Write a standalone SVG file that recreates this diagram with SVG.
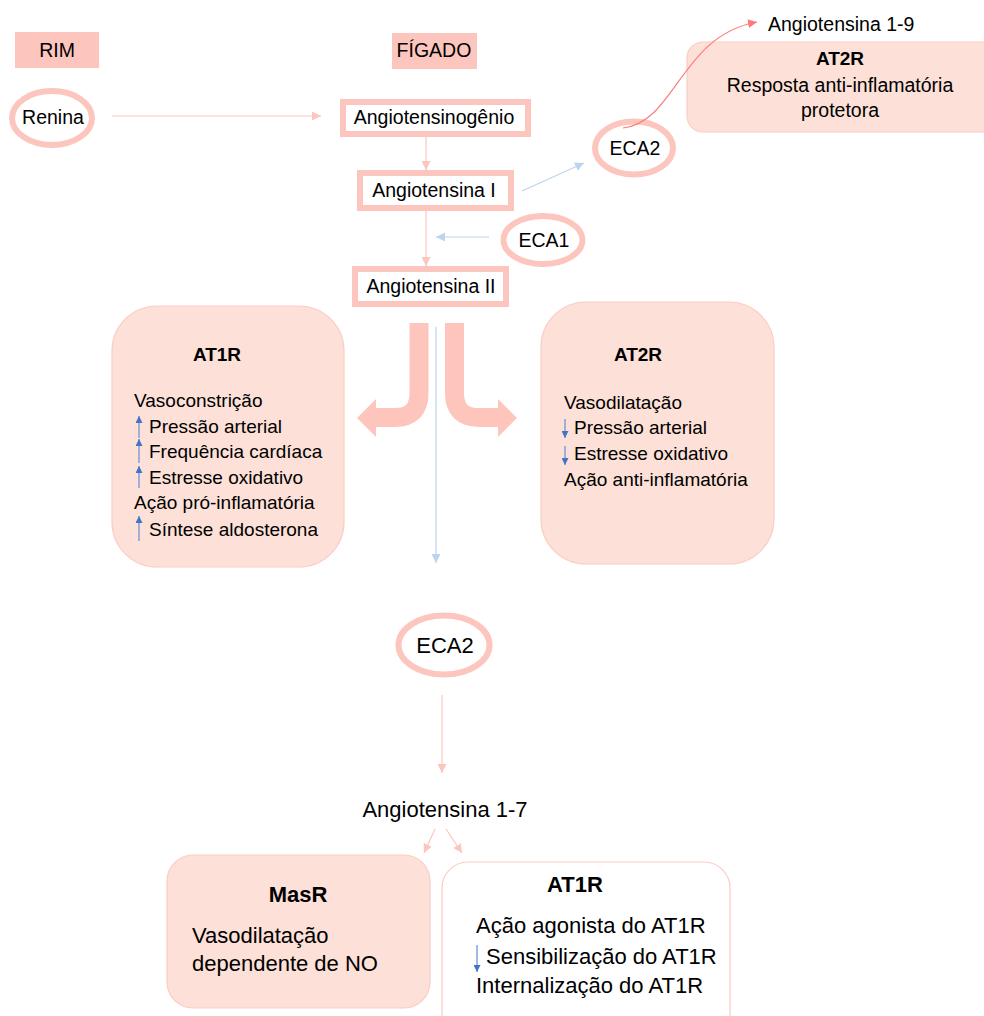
<svg xmlns="http://www.w3.org/2000/svg" width="984" height="1016" viewBox="0 0 984 1016">
<style>
  text { font-family: "Liberation Sans", Arial, sans-serif; fill: #000; }
  .t { font-size: 19.5px; }
  .b { font-size: 19px; }
  .big { font-size: 22px; }
  .bold { font-weight: bold; }
  .mid { text-anchor: middle; }
  .ring { fill: #fff; stroke: #fcc6be; stroke-width: 6; }
  .frame { fill: #fff; stroke: #fcc6be; stroke-width: 6; }
  .label { fill: #fcc6be; }
  .box { fill: #fde0d7; stroke: #fbcdc4; stroke-width: 1.2; }
  .wbox { fill: #fff; stroke: #fbcdc4; stroke-width: 1.2; }
  .pink { fill: none; stroke: #fcc6be; stroke-width: 1.2; marker-end: url(#ap); }
  .blue { fill: none; stroke: #bcd5ee; stroke-width: 1.2; marker-end: url(#ab); }
  .red { fill: none; stroke: #ff7b7b; stroke-width: 1.2; marker-end: url(#ar); }
  .band { fill: none; stroke: #fdc5bc; stroke-width: 19; }
  .head { fill: #fdc5bc; }
  .mark { fill: none; stroke: #6f95d6; stroke-width: 1.3; marker-end: url(#am); }
</style>
<defs>
  <marker id="ap" markerUnits="userSpaceOnUse" markerWidth="9" markerHeight="9" refX="9" refY="4.5" orient="auto">
    <path d="M0,0 L9,4.5 L0,9 z" fill="#fcc6be"/>
  </marker>
  <marker id="ab" markerUnits="userSpaceOnUse" markerWidth="9" markerHeight="9" refX="9" refY="4.5" orient="auto">
    <path d="M0,0 L9,4.5 L0,9 z" fill="#bcd5ee"/>
  </marker>
  <marker id="ar" markerUnits="userSpaceOnUse" markerWidth="9" markerHeight="9" refX="9" refY="4.5" orient="auto">
    <path d="M0,0 L9,4.5 L0,9 z" fill="#ff7b7b"/>
  </marker>
  <marker id="am" markerUnits="userSpaceOnUse" markerWidth="7" markerHeight="7" refX="7" refY="3.5" orient="auto">
    <path d="M0,0 L7,3.5 L0,7 z" fill="#4472c4"/>
  </marker>
</defs>

<g id="rim">
  <rect class="label" x="15" y="32" width="84" height="36"/>
  <text class="t mid" x="57" y="57">RIM</text>
</g>
<g id="figado">
  <rect class="label" x="392" y="33" width="85" height="36"/>
  <text class="t mid" x="434" y="57">FÍGADO</text>
</g>
<g id="renina">
  <ellipse class="ring" cx="52" cy="118" rx="40" ry="27"/>
  <text class="t mid" x="53" y="124">Renina</text>
</g>
<g id="angiotensinogenio">
  <rect class="frame" x="343" y="102" width="185" height="32"/>
  <text class="t mid" x="434" y="124">Angiotensinogênio</text>
</g>
<g id="angiotensina-i">
  <rect class="frame" x="360" y="173" width="151" height="35"/>
  <text class="t mid" x="434" y="197">Angiotensina I</text>
</g>
<g id="angiotensina-ii">
  <rect class="frame" x="355" y="269" width="151" height="35"/>
  <text class="t mid" x="431" y="293">Angiotensina II</text>
</g>
<g id="eca1">
  <ellipse class="ring" cx="543" cy="240" rx="39.5" ry="24"/>
  <text class="t mid" x="544" y="247">ECA1</text>
</g>
<g id="eca2-top">
  <ellipse class="ring" cx="634" cy="148" rx="39" ry="26.5"/>
  <text class="t mid" x="635" y="155">ECA2</text>
</g>
<g id="angiotensina-1-9">
  <text class="t" x="768" y="31">Angiotensina 1-9</text>
</g>
<g id="at2r-top">
  <rect class="box" x="687" y="42" width="320" height="90" rx="16"/>
  <text class="b bold mid" x="840" y="65">AT2R</text>
  <text class="t mid" x="840" y="92">Resposta anti-inflamatória</text>
  <text class="t mid" x="840" y="117">protetora</text>
</g>

<g id="at1r">
  <rect class="box" x="112" y="306" width="232" height="261" rx="45"/>
  <text class="b bold mid" x="217" y="361">AT1R</text>
  <text class="b" x="134" y="407">Vasoconstrição</text>
  <line class="mark" x1="139" y1="438" x2="139" y2="416"/>
  <text class="b" x="149" y="433">Pressão arterial</text>
  <line class="mark" x1="139" y1="463" x2="139" y2="439"/>
  <text class="b" x="149" y="458">Frequência cardíaca</text>
  <line class="mark" x1="139" y1="488" x2="139" y2="466"/>
  <text class="b" x="149" y="484">Estresse oxidativo</text>
  <text class="b" x="134" y="509">Ação pró-inflamatória</text>
  <line class="mark" x1="139" y1="541" x2="139" y2="516"/>
  <text class="b" x="149" y="536">Síntese aldosterona</text>
</g>

<g id="at2r">
  <rect class="box" x="541" y="302" width="233" height="262" rx="45"/>
  <text class="b bold mid" x="638" y="361">AT2R</text>
  <text class="b" x="564" y="409">Vasodilatação</text>
  <line class="mark" x1="565" y1="419" x2="565" y2="438"/>
  <text class="b" x="574" y="434">Pressão arterial</text>
  <line class="mark" x1="565" y1="446" x2="565" y2="465"/>
  <text class="b" x="574" y="460">Estresse oxidativo</text>
  <text class="b" x="564" y="486">Ação anti-inflamatória</text>
</g>

<g id="eca2-bottom">
  <ellipse class="ring" cx="444" cy="645" rx="45.5" ry="29.5" stroke-width="7"/>
  <text class="big mid" x="445" y="653">ECA2</text>
</g>
<g id="angiotensina-1-7">
  <text class="big mid" x="445" y="817">Angiotensina 1-7</text>
</g>
<g id="masr">
  <rect class="box" x="167" y="855" width="263" height="153" rx="26"/>
  <text class="big bold mid" x="298" y="902">MasR</text>
  <text class="big" x="192" y="943">Vasodilatação</text>
  <text class="big" x="192" y="971">dependente de NO</text>
</g>
<g id="at1r-bottom">
  <rect class="wbox" x="442" y="862" width="288" height="180" rx="26"/>
  <text class="big bold mid" x="575" y="892">AT1R</text>
  <text class="big" x="476" y="933">Ação agonista do AT1R</text>
  <line class="mark" x1="477" y1="945" x2="477" y2="972"/>
  <text class="big" x="486" y="964">Sensibilização do AT1R</text>
  <text class="big" x="476" y="993">Internalização do AT1R</text>
</g>

<g id="connectors">
  <line class="pink" x1="112" y1="116" x2="321" y2="116"/>
  <line class="pink" x1="426" y1="137" x2="426" y2="170"/>
  <line class="pink" x1="426" y1="211" x2="426" y2="266"/>
  <line class="blue" x1="522" y1="191" x2="584" y2="163"/>
  <line class="blue" x1="489" y1="237" x2="436" y2="237"/>
  <path class="red" d="M623,128 C676,122 680,36 757,22"/>
  <line class="blue" x1="436" y1="327" x2="436" y2="563"/>
  <line class="pink" x1="442" y1="695" x2="442" y2="773"/>
  <line class="pink" x1="435" y1="829" x2="424" y2="853"/>
  <line class="pink" x1="446" y1="829" x2="462" y2="853"/>
  <g id="split-arrows">
    <path class="band" d="M419,323 V393 Q419,417.5 395,417.5 H375"/>
    <polygon class="head" points="376,399 376,437 357,418"/>
    <path class="band" d="M454.5,323 V393 Q454.5,417.5 479,417.5 H499"/>
    <polygon class="head" points="498,399 498,437 517,418"/>
  </g>
</g>
</svg>
